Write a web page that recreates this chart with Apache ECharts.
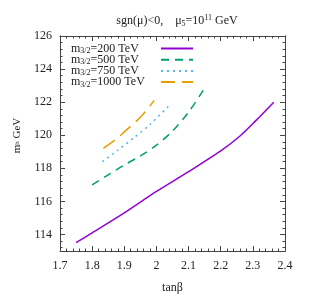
<!DOCTYPE html>
<html>
<head>
<meta charset="utf-8">
<script src="https://cdn.jsdelivr.net/npm/echarts@6/dist/echarts.min.js"></script>
<style>html,body{margin:0;padding:0;background:#fff}#c{width:309px;height:299px}</style>
</head>
<body>
<div id="c"></div>
<script>
var xTicks = [1.7, 1.8, 1.9, 2.0, 2.1, 2.2, 2.3, 2.4];
var yTicks = [114, 116, 118, 120, 122, 124, 126];
var names = ['200', '500', '750', '1000'];
var tb200 = [1.75, 1.8, 1.9, 2.0, 2.1, 2.2, 2.26, 2.31, 2.365];
var mh200 = [113.5, 114.1, 115.3, 116.6, 117.8, 119.05, 119.95, 120.9, 122.0];
var tb500 = [1.80, 1.85, 1.90, 1.95, 2.0, 2.05, 2.10, 2.147];
var mh500 = [117.0, 117.6, 118.2, 118.75, 119.4, 120.25, 121.4, 122.75];
var tb750 = [1.832, 1.88, 1.93, 1.98, 2.04];
var mh750 = [118.4, 119.1, 119.85, 120.65, 121.8];
var tb1000 = [1.835, 1.88, 1.90, 1.94, 1.96, 1.993];
var mh1000 = [119.2, 119.85, 120.2, 120.9, 121.3, 122.1];
var colors = ['#9400d3', '#009e73', '#56b4e9', '#e69f00'];
var dashes = ['solid', [8, 6], [2, 4], [14, 7]];

function pairs(xs, ys) { return xs.map(function (x, i) { return [x, ys[i]]; }); }
var sets = [pairs(tb200, mh200), pairs(tb500, mh500), pairs(tb750, mh750), pairs(tb1000, mh1000)];

var yMinor = [];
for (var k = 0; k < 33; k++) {
  var v = Math.round((113.2 + 0.4 * k) * 10) / 10;
  if (v < 126 && yTicks.indexOf(v) < 0) yMinor.push(v);
}

var serif = 'Liberation Serif';
var axc = '#444';

var mctx = document.createElement('canvas').getContext('2d');
function tw(s, size) { mctx.font = size + 'px "' + serif + '"'; return mctx.measureText(s).width; }
var legendTextW = 85;

var chart = echarts.init(document.getElementById('c'));

function xAx(pos, labels) {
  return {
    type: 'value', min: 1.7, max: 2.4, interval: 0.1, position: pos,
    axisLine: { show: true, lineStyle: { color: axc, width: 1 } },
    axisTick: { inside: true, length: 5, lineStyle: { color: axc } },
    minorTick: { show: true, splitNumber: 5, length: 2.5, lineStyle: { color: axc } },
    splitLine: { show: false },
    axisLabel: labels ? { fontFamily: serif, fontSize: 12, color: '#222', margin: 9,
      formatter: function (v) { return String(Math.round(v * 10) / 10); } } : { show: false },
    name: labels ? 'tanβ' : '', nameLocation: 'middle', nameGap: 31,
    nameTextStyle: { fontFamily: serif, fontSize: 12, color: '#222' }
  };
}
function yAx(pos, vals, len, labels) {
  var o = {
    type: 'value', min: 113, max: 126, position: pos,
    axisLine: { show: true, lineStyle: { color: axc, width: 1 } },
    axisTick: { inside: true, length: len, lineStyle: { color: axc }, customValues: vals },
    splitLine: { show: false },
    axisLabel: labels ? { fontFamily: serif, fontSize: 12, color: '#222', margin: 8, customValues: vals } : { show: false }
  };
  if (labels) {
    o.name = 'm{sub|h} GeV';
    o.nameLocation = 'middle';
    o.nameGap = 37;
    o.nameRotate = 90;
    o.nameTextStyle = { fontFamily: serif, fontSize: 11, color: '#222', padding: [0, 0, 0, 16],
      rich: { sub: { fontFamily: serif, fontSize: 7, color: '#222' } } };
  }
  return o;
}

var rich = {
  t: { fontFamily: serif, fontSize: 12, color: '#222', lineHeight: 10 },
  sub: { fontFamily: serif, fontSize: 8, color: '#222', lineHeight: 6, padding: [5, 0, 0, 0] }
};
var fmtMap = {};
names.forEach(function (n, i) {
  var w = tw('m', 12) + tw('3/2', 8) + tw('=' + n + ' TeV', 12);
  rich['p' + i] = { width: Math.max(0, legendTextW - w), lineHeight: 10 };
  fmtMap[n] = '{t|m}{sub|3/2}{t|=' + n + ' TeV}{p' + i + '|\u200b}';
});

chart.setOption({
  animation: false,
  backgroundColor: '#fff',
  title: {
    text: 'sgn(μ)<0,    μ{sub|5}=10{sup|11} GeV',
    left: 172, top: 9, textAlign: 'center',
    textStyle: {
      fontFamily: serif, fontSize: 12, fontWeight: 'normal', color: '#222',
      rich: {
        sub: { fontFamily: serif, fontSize: 8, color: '#222', padding: [5, 0, 0, 0] },
        sup: { fontFamily: serif, fontSize: 8, color: '#222', padding: [0, 0, 6, 0] }
      }
    }
  },
  legend: {
    orient: 'vertical', left: 66, top: 37, align: 'right',
    itemWidth: 32, itemHeight: 11, itemGap: -1.8,
    data: names,
    itemStyle: { opacity: 0 },
    formatter: function (n) { return fmtMap[n]; },
    textStyle: { fontFamily: serif, fontSize: 12, color: '#222', rich: rich }
  },
  grid: { left: 60, top: 36, right: 24, bottom: 40 },
  xAxis: [xAx('bottom', true), xAx('top', false)],
  yAxis: [
    yAx('left', yTicks, 5, true),
    yAx('left', yMinor, 2.5, false),
    yAx('right', yTicks, 5, false),
    yAx('right', yMinor, 2.5, false)
  ],
  series: sets.map(function (d, i) {
    return {
      name: names[i], type: 'line', data: d, smooth: 0.3, showSymbol: false, symbol: 'none',
      color: colors[i],
      lineStyle: { color: colors[i], width: 1.5, type: dashes[i] }
    };
  })
});
</script>
</body>
</html>
